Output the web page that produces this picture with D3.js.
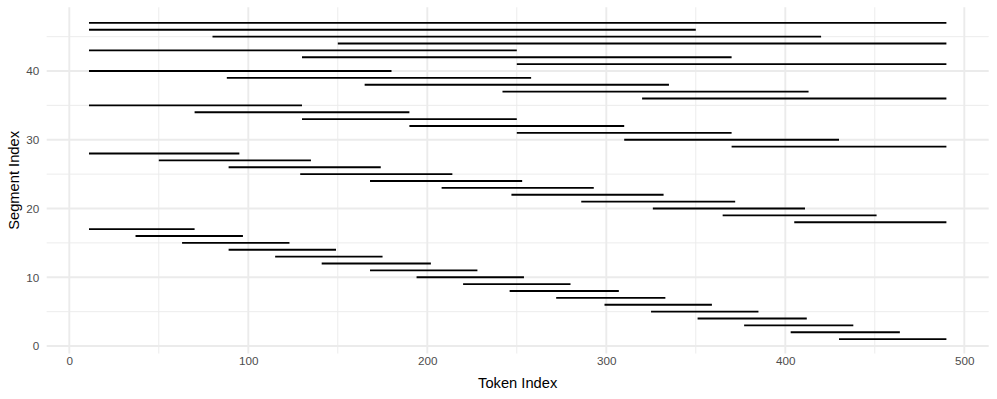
<!DOCTYPE html>
<html>
<head>
<meta charset="utf-8">
<script src="https://cdn.jsdelivr.net/npm/d3@7"></script>
<style>
  html, body { margin: 0; padding: 0; background: #fff; }
  svg { display: block; }
  text { font-family: "Liberation Sans", Arial, Helvetica, sans-serif; }
</style>
</head>
<body>
<svg id="chart" width="997" height="399"></svg>
<script>
const segIndex = d3.range(1, 48);
const segStart = [430,403,377,351,325,299,272,246,220,194,168,141,115,89,63,37,11,
                  405,365,326,286,247,208,168,129,89,50,11,
                  370,310,250,190,130,70,11,
                  320,242,165,88,11,
                  250,130,11,
                  150,80,
                  11,11];
const segEnd   = [490,464,438,412,385,359,333,307,280,254,228,202,175,149,123,97,70,
                  490,451,411,372,332,293,253,214,174,135,95,
                  490,430,370,310,250,190,130,
                  490,413,335,258,180,
                  490,370,250,
                  490,420,
                  350,490];
const xTicks = [0, 100, 200, 300, 400, 500];
const xMinor = [50, 150, 250, 350, 450];
const yTicks = [0, 10, 20, 30, 40];
const yMinor = [5, 15, 25, 35, 45];

const data = segIndex.map((s, i) => ({ s, x0: segStart[i], x1: segEnd[i] }));

const svg = d3.select("#chart");
const panel = { left: 46.7, right: 988.7, top: 7.3, bottom: 353.5 };

const x = d3.scaleLinear().domain([0, 500]).range([69.3, 964.3]);
const y = d3.scaleLinear().domain([0, 40]).range([346, 71]);

const grid = svg.append("g");
// minor grid
grid.selectAll(".xminor").data(xMinor).join("line")
  .attr("x1", d => x(d)).attr("x2", d => x(d))
  .attr("y1", panel.top).attr("y2", panel.bottom)
  .attr("stroke", "#ebebeb").attr("stroke-width", 0.95);
grid.selectAll(".yminor").data(yMinor).join("line")
  .attr("y1", d => y(d)).attr("y2", d => y(d))
  .attr("x1", panel.left).attr("x2", panel.right)
  .attr("stroke", "#ebebeb").attr("stroke-width", 0.95);
// major grid
grid.selectAll(".xmajor").data(xTicks).join("line")
  .attr("x1", d => x(d)).attr("x2", d => x(d))
  .attr("y1", panel.top).attr("y2", panel.bottom)
  .attr("stroke", "#ebebeb").attr("stroke-width", 1.9);
grid.selectAll(".ymajor").data(yTicks).join("line")
  .attr("y1", d => y(d)).attr("y2", d => y(d))
  .attr("x1", panel.left).attr("x2", panel.right)
  .attr("stroke", "#ebebeb").attr("stroke-width", 1.9);

// segments
svg.append("g").selectAll("line").data(data).join("line")
  .attr("x1", d => x(d.x0)).attr("x2", d => x(d.x1))
  .attr("y1", d => y(d.s)).attr("y2", d => y(d.s))
  .attr("stroke", "#000").attr("stroke-width", 1.9);

// x axis labels
const xAxis = d3.axisBottom(x).tickValues(xTicks).tickSize(0).tickPadding(0);
const gx = svg.append("g").attr("transform", `translate(0, ${panel.bottom + 3})`).call(xAxis);
gx.select(".domain").remove();
gx.selectAll("text").attr("fill", "#4d4d4d").style("font-size", "11.7px")
  .attr("dy", "0.71em");

const yAxis = d3.axisLeft(y).tickValues(yTicks).tickSize(0).tickPadding(0);
const gy = svg.append("g").attr("transform", `translate(${panel.left - 7.5}, 0)`).call(yAxis);
gy.select(".domain").remove();
gy.selectAll("text").attr("fill", "#4d4d4d").style("font-size", "11.7px");

// axis titles
svg.append("text")
  .attr("x", (panel.left + panel.right) / 2).attr("y", 388)
  .attr("text-anchor", "middle").attr("fill", "#000")
  .style("font-size", "14.7px").text("Token Index");
svg.append("text")
  .attr("transform", `translate(19, ${(panel.top + panel.bottom) / 2}) rotate(-90)`)
  .attr("text-anchor", "middle").attr("fill", "#000")
  .style("font-size", "14.7px").text("Segment Index");
</script>
</body>
</html>
